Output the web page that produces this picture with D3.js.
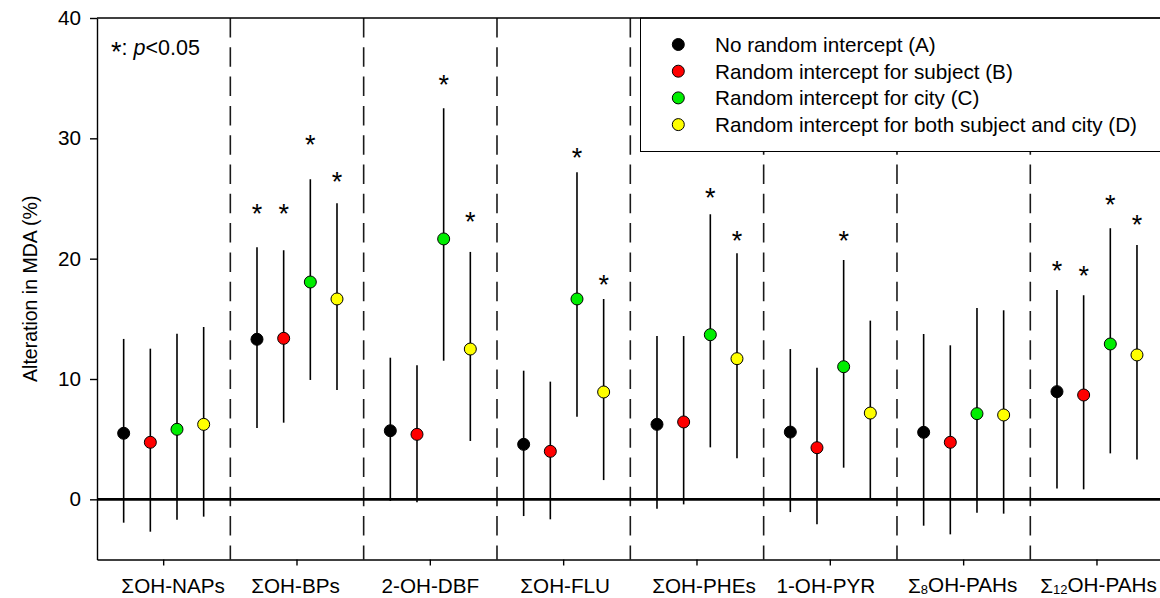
<!DOCTYPE html>
<html>
<head>
<meta charset="utf-8">
<script src="https://cdn.jsdelivr.net/npm/d3@7"></script>
<style>
  html, body { margin: 0; padding: 0; background: #fff; }
  svg { display: block; font-family: Arial, "Liberation Sans", sans-serif; }
</style>
</head>
<body>
<svg id="chart" width="1160" height="598"></svg>
<script>
// ---- data ----
const categories = ["ΣOH-NAPs","ΣOH-BPs","2-OH-DBF","ΣOH-FLU","ΣOH-PHEs","1-OH-PYR","Σ8OH-PAHs","Σ12OH-PAHs"];
const labelPre  = ["ΣOH-NAPs","ΣOH-BPs","2-OH-DBF","ΣOH-FLU","ΣOH-PHEs","1-OH-PYR","Σ","Σ"];
const labelSub  = ["","","","","","","8","12"];
const labelPost = ["","","","","","","OH-PAHs","OH-PAHs"];

const models = ["No random intercept (A)","Random intercept for subject (B)","Random intercept for city (C)","Random intercept for both subject and city (D)"];
const modelColors = ["#000000","#ff0000","#00ee00","#ffff00"];

const estA  = [5.49, 13.30, 5.70, 4.57, 6.23, 5.59, 5.57, 8.95];
const lowA  = [-1.94, 5.93, -0.14, -1.39, -0.78, -1.06, -2.19, 0.91];
const highA = [13.33, 20.95, 11.77, 10.69, 13.57, 12.49, 13.74, 17.40];
const starA = [null, 23.96, null, null, null, null, null, 19.20];

const estB  = [4.74, 13.38, 5.40, 3.99, 6.43, 4.29, 4.74, 8.67];
const lowB  = [-2.69, 6.37, -0.25, -1.66, -0.42, -2.08, -2.91, 0.83];
const highB = [12.52, 20.70, 11.14, 9.78, 13.57, 10.94, 12.80, 16.96];
const starB = [null, 23.96, null, null, null, null, null, 18.84];

const estC  = [5.82, 18.06, 21.64, 16.65, 13.68, 11.02, 7.12, 12.91];
const lowC  = [-1.69, 9.92, 11.52, 6.87, 4.32, 2.63, -1.11, 3.82];
const highC = [13.77, 26.60, 32.50, 27.18, 23.69, 19.89, 15.90, 22.53];
const starC = [null, 29.70, 34.66, 28.60, 25.30, 21.70, null, 24.74];

const estD  = [6.23, 16.65, 12.49, 8.92, 11.69, 7.17, 7.01, 12.00];
const lowD  = [-1.44, 9.08, 4.85, 1.60, 3.41, 0.08, -1.19, 3.32];
const highD = [14.32, 24.60, 20.56, 16.65, 20.45, 14.85, 15.71, 21.14];
const starD = [null, 26.60, 23.30, 18.10, 21.70, null, null, 23.08];

const yTicks = [0, 10, 20, 30, 40];
const yTitle = "Alteration in MDA (%)";

// ---- layout / style constants ----
const labelNudge = [9.5, -1.5, 0, 1.5, 7, -4.5, -1, 1.5]; // horizontal label offsets (px)
const fs = 20.7;

// ---- build ----
const seriesEst  = [estA, estB, estC, estD];
const seriesLow  = [lowA, lowB, lowC, lowD];
const seriesHigh = [highA, highB, highC, highD];
const seriesStar = [starA, starB, starC, starD];

const svg = d3.select("#chart");
const mLeft = 97, mTop = 18, mBottom = 559.5, bandW = 133.33;
const x = d3.scaleBand().domain(categories).range([mLeft, mLeft + bandW * categories.length]).padding(0);
const y = d3.scaleLinear().domain([-5, 40]).range([mBottom, mTop]);
const xPos = (c, m) => x(c) + x.bandwidth() * (m + 1) / 5;

// dashed separators
const seps = categories.slice(1);
svg.append("g").selectAll("line").data(seps).join("line")
  .attr("x1", d => x(d)).attr("x2", d => x(d))
  .attr("y1", mTop).attr("y2", mBottom)
  .attr("stroke", "#1a1a1a").attr("stroke-width", 1.6)
  .attr("stroke-dasharray", "19.5,9.8");

// legend box (white, covering separators)
const lg = svg.append("g");
lg.append("rect").attr("x", 640.5).attr("y", mTop).attr("width", 600).attr("height", 133.5)
  .attr("fill", "#fff").attr("stroke", "#000").attr("stroke-width", 1);
models.forEach((m, i) => {
  const ly = 44.5 + i * 26.7;
  lg.append("circle").attr("cx", 678.3).attr("cy", ly).attr("r", 6)
    .attr("fill", modelColors[i]).attr("stroke", "#000").attr("stroke-width", 1);
  lg.append("text").attr("x", 715).attr("y", ly).attr("dy", "0.36em")
    .attr("font-size", fs).attr("fill", "#000").text(m);
});

// zero line
svg.append("line").attr("x1", mLeft).attr("x2", 1160).attr("y1", y(0)).attr("y2", y(0))
  .attr("stroke", "#000").attr("stroke-width", 2.6);

// error bars, points, stars
const starFs = 27;
seriesEst.forEach((est, m) => {
  const g = svg.append("g");
  g.selectAll("line").data(categories).join("line")
    .attr("x1", (c) => xPos(c, m)).attr("x2", (c) => xPos(c, m))
    .attr("y1", (c, i) => y(seriesLow[m][i])).attr("y2", (c, i) => y(seriesHigh[m][i]))
    .attr("stroke", "#000").attr("stroke-width", 1.6);
  g.selectAll("circle").data(categories).join("circle")
    .attr("cx", (c) => xPos(c, m)).attr("cy", (c, i) => y(est[i])).attr("r", 6)
    .attr("fill", modelColors[m]).attr("stroke", "#000").attr("stroke-width", 1);
  const stars = categories.map((c, i) => ({c, v: seriesStar[m][i]})).filter(d => d.v !== null);
  g.selectAll("text").data(stars).join("text")
    .attr("x", d => xPos(d.c, m)).attr("y", d => y(d.v) + 0.45 * starFs)
    .attr("text-anchor", "middle").attr("font-size", starFs).attr("fill", "#000").text("*");
});

// axes
const yAxis = svg.append("g").attr("transform", `translate(${mLeft},0)`)
  .call(d3.axisLeft(y).tickValues(yTicks).tickSize(7).tickPadding(9).tickSizeOuter(0));
yAxis.select(".domain").attr("stroke", "#000").attr("stroke-width", 1.4);
yAxis.selectAll(".tick line").attr("stroke", "#000").attr("stroke-width", 1.4);
yAxis.selectAll(".tick text").attr("font-size", fs).attr("font-family", "Arial, 'Liberation Sans', sans-serif").attr("fill", "#000");

const xAxis = svg.append("g").attr("transform", `translate(0,${mBottom})`)
  .call(d3.axisBottom(x).tickSize(6).tickPadding(12.5).tickSizeOuter(0));
xAxis.select(".domain").attr("stroke", "#000").attr("stroke-width", 1.4);
xAxis.selectAll(".tick line").attr("stroke", "#000").attr("stroke-width", 1.4);
xAxis.selectAll(".tick text").each(function(d, i) {
  const t = d3.select(this).text("").attr("font-size", fs)
    .attr("font-family", "Arial, 'Liberation Sans', sans-serif").attr("fill", "#000")
    .attr("x", labelNudge[i]);
  t.append("tspan").text(labelPre[i]);
  if (labelSub[i]) {
    t.append("tspan").attr("font-size", 13).attr("dy", "0.1em").text(labelSub[i]);
    t.append("tspan").attr("dy", "-0.1em").text(labelPost[i]);
  }
});

// top frame line
svg.append("line").attr("x1", mLeft).attr("x2", 1160).attr("y1", mTop).attr("y2", mTop)
  .attr("stroke", "#000").attr("stroke-width", 1.4);

// y title
svg.append("text").attr("transform", `translate(37,${(mTop + mBottom) / 2}) rotate(-90)`)
  .attr("text-anchor", "middle").attr("font-size", 19.5).attr("fill", "#000").text(yTitle);

// significance note
const note = svg.append("text").attr("x", 111).attr("y", 54).attr("font-size", 21.5).attr("fill", "#000");
note.append("tspan").attr("font-size", starFs).attr("dy", "0.25em").text("*");
note.append("tspan").attr("dy", "-0.25em").text(": ");
note.append("tspan").attr("font-style", "italic").text("p");
note.append("tspan").text("<0.05");
</script>
</body>
</html>
